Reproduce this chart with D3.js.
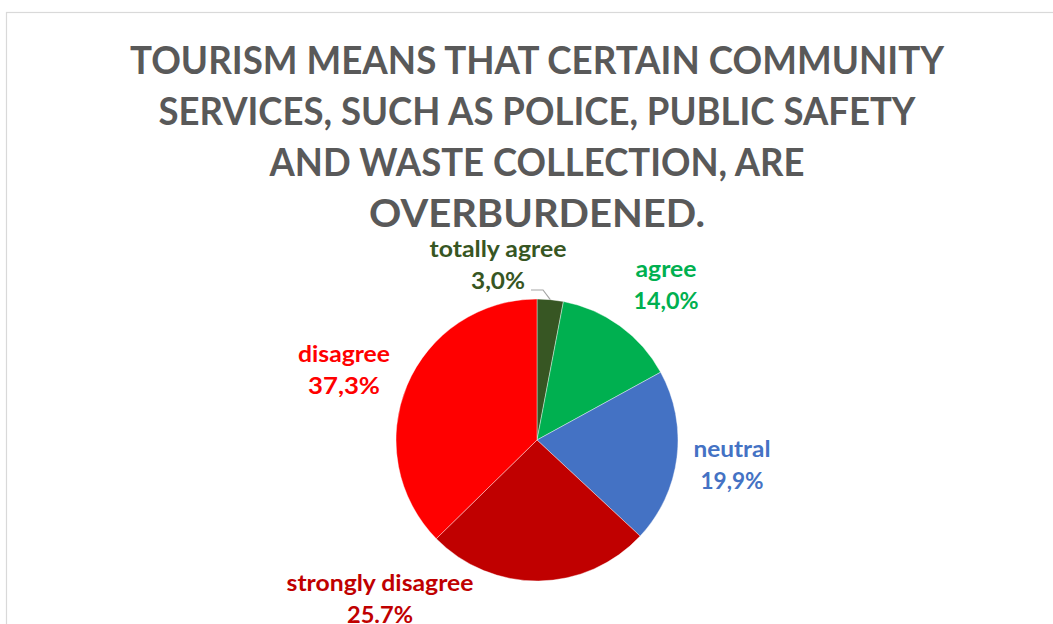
<!DOCTYPE html>
<html>
<head>
<meta charset="utf-8">
<script src="https://cdn.jsdelivr.net/npm/d3@7"></script>
<style>
  html, body { margin: 0; padding: 0; background: #ffffff; }
  svg { display: block; }
  text { font-family: Lato, "Open Sans", "Liberation Sans", sans-serif; font-weight: 700; }
</style>
</head>
<body>
<svg id="chart" width="1053" height="624"></svg>
<script>
// Survey answers, clockwise from 12 o'clock
const categories = ["totally agree", "agree", "neutral", "strongly disagree", "disagree"];
const shares = [3.0, 14.0, 19.9, 25.7, 37.3];
const decimalMarks = [",", ",", ",", ".", ","];
const titleLines = [
  "TOURISM MEANS THAT CERTAIN COMMUNITY",
  "SERVICES, SUCH AS POLICE, PUBLIC SAFETY",
  "AND WASTE COLLECTION, ARE",
  "OVERBURDENED."
];

// Presentation
const sliceColors = ["#375623", "#00b050", "#4472c4", "#c00000", "#ff0000"];
const W = 1053, H = 624;
const cx = 537, cy = 440, radius = 141;
const titleBaselines = [74, 125, 176, 227];
const titleWidths = [814, 757, 535, 336];
// label anchor (centre x, first baseline) relative to the pie centre, and text widths
const labelLayout = [
  { dx: -39, dy: -183, w1: 137, w2: 54 },
  { dx: 129, dy: -163, w1: 61, w2: 65 },
  { dx: 195, dy: 17, w1: 77, w2: 63 },
  { dx: -157, dy: 151, w1: 187, w2: 66 },
  { dx: -193, dy: -78, w1: 92, w2: 72 }
];
const lineGap = 32;

const svg = d3.select("#chart");

// chart area frame
svg.append("rect")
  .attr("x", 6.5).attr("y", 12.5)
  .attr("width", W + 20).attr("height", H + 20)
  .attr("fill", "#ffffff")
  .attr("stroke", "#d9d9d9")
  .attr("stroke-width", 1.2);

// title
svg.append("g").selectAll("text")
  .data(titleLines)
  .join("text")
  .attr("x", 537)
  .attr("y", (d, i) => titleBaselines[i])
  .attr("text-anchor", "middle")
  .attr("font-size", 38)
  .attr("fill", "#595959")
  .attr("textLength", (d, i) => titleWidths[i])
  .attr("lengthAdjust", "spacingAndGlyphs")
  .text(d => d);

// pie
const pie = d3.pie().sort(null).value(d => d.value);
const arcs = pie(categories.map((c, i) => ({ name: c, value: shares[i], i })));
const arc = d3.arc().innerRadius(0).outerRadius(radius);

const g = svg.append("g").attr("transform", `translate(${cx},${cy})`);
g.selectAll("path")
  .data(arcs)
  .join("path")
  .attr("d", arc)
  .attr("fill", d => sliceColors[d.data.i])
  .attr("stroke", "#ffffff")
  .attr("stroke-width", 0.4);

// leader line for the thin first slice
const first = arcs[0];
const mid = (first.startAngle + first.endAngle) / 2;
const edge = [Math.sin(mid) * radius, -Math.cos(mid) * radius];
const lay0 = labelLayout[0];
const start = [lay0.dx + lay0.w2 / 2 + 6, lay0.dy + lineGap + 1];
g.append("polyline")
  .attr("points", [start, [start[0] + 12, start[1]], edge].map(p => p.join(",")).join(" "))
  .attr("fill", "none")
  .attr("stroke", "#a6a6a6")
  .attr("stroke-width", 1.2);

// data labels
const fmt = d3.format(".1f");
const labels = g.selectAll("g.label")
  .data(arcs)
  .join("g")
  .attr("class", "label")
  .attr("fill", d => sliceColors[d.data.i]);

labels.append("text")
  .attr("x", d => labelLayout[d.data.i].dx)
  .attr("y", d => labelLayout[d.data.i].dy)
  .attr("text-anchor", "middle")
  .attr("font-size", 22)
  .attr("textLength", d => labelLayout[d.data.i].w1)
  .attr("lengthAdjust", "spacingAndGlyphs")
  .text(d => d.data.name);

labels.append("text")
  .attr("x", d => labelLayout[d.data.i].dx)
  .attr("y", d => labelLayout[d.data.i].dy + lineGap)
  .attr("text-anchor", "middle")
  .attr("font-size", 22)
  .attr("textLength", d => labelLayout[d.data.i].w2)
  .attr("lengthAdjust", "spacingAndGlyphs")
  .text(d => fmt(d.data.value).replace(".", decimalMarks[d.data.i]) + "%");
</script>
</body>
</html>
